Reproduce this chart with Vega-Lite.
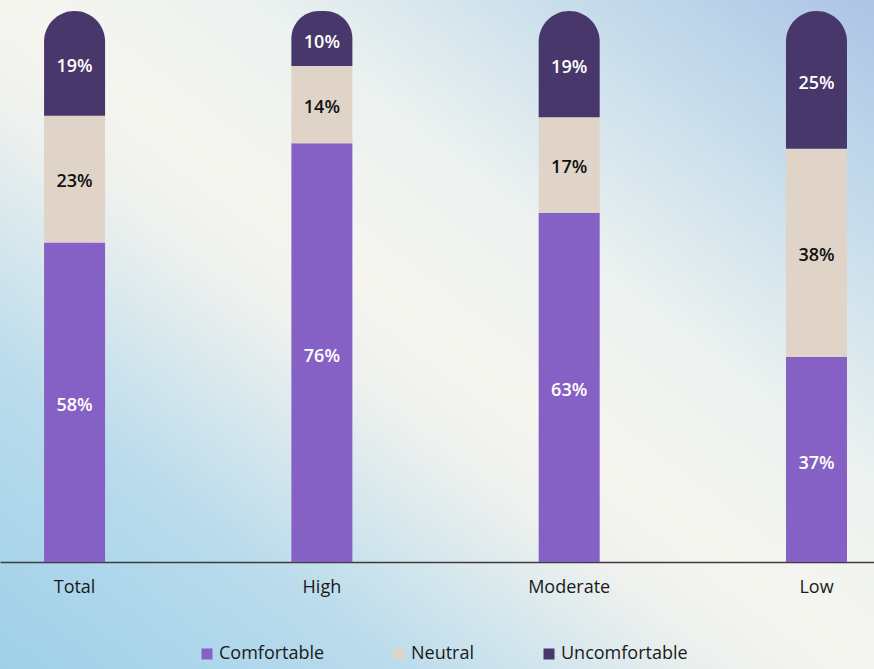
{
  "$schema": "https://vega.github.io/schema/vega-lite/v6.json",
  "width": 874,
  "height": 669,
  "padding": 0,
  "autosize": {"type": "fit", "contains": "padding"},
  "background": "#f5f4ef",
  "config": {
    "font": "Open Sans",
    "view": {
      "stroke": null,
      "fill": {
        "gradient": "linear",
        "x1": 0, "y1": 1, "x2": 1, "y2": 0,
        "stops": [
          {"offset": 0, "color": "#9fd0e9"},
          {"offset": 0.22, "color": "#b9dbec"},
          {"offset": 0.42, "color": "#eef1ee"},
          {"offset": 0.5, "color": "#f6f5f0"},
          {"offset": 0.64, "color": "#ecf2f0"},
          {"offset": 0.84, "color": "#c4dbeb"},
          {"offset": 1, "color": "#aec3e6"}
        ]
      }
    }
  },
  "data": {
    "values": [
      {"group": "Total", "segment": "Comfortable", "order": 1, "value": 58, "label": "58%"},
      {"group": "Total", "segment": "Neutral", "order": 2, "value": 23, "label": "23%"},
      {"group": "Total", "segment": "Uncomfortable", "order": 3, "value": 19, "label": "19%"},
      {"group": "High", "segment": "Comfortable", "order": 1, "value": 76, "label": "76%"},
      {"group": "High", "segment": "Neutral", "order": 2, "value": 14, "label": "14%"},
      {"group": "High", "segment": "Uncomfortable", "order": 3, "value": 10, "label": "10%"},
      {"group": "Moderate", "segment": "Comfortable", "order": 1, "value": 63.4, "label": "63%"},
      {"group": "Moderate", "segment": "Neutral", "order": 2, "value": 17.3, "label": "17%"},
      {"group": "Moderate", "segment": "Uncomfortable", "order": 3, "value": 19.3, "label": "19%"},
      {"group": "Low", "segment": "Comfortable", "order": 1, "value": 37.2, "label": "37%"},
      {"group": "Low", "segment": "Neutral", "order": 2, "value": 37.8, "label": "38%"},
      {"group": "Low", "segment": "Uncomfortable", "order": 3, "value": 25, "label": "25%"}
    ]
  },
  "transform": [
    {"stack": "value", "groupby": ["group"], "sort": [{"field": "order", "order": "ascending"}], "as": ["y0", "y1"]},
    {"calculate": "(datum.y0 + datum.y1) / 2", "as": "ymid"}
  ],
  "encoding": {
    "x": {
      "field": "group",
      "type": "nominal",
      "sort": ["Total", "High", "Moderate", "Low"],
      "scale": {"paddingInner": 0.7533, "paddingOuter": 0.1437, "align": 0.62},
      "axis": {
        "title": null,
        "orient": "bottom",
        "offset": -107,
        "labelAngle": 0,
        "ticks": false,
        "domainColor": "#3c3c3c",
        "domainWidth": 1.5,
        "labelFontSize": 18,
        "labelColor": "#1a1a1a",
        "labelPadding": 16
      }
    }
  },
  "layer": [
    {
      "transform": [{"filter": "datum.segment !== 'Uncomfortable'"}],
      "mark": {"type": "bar"},
      "encoding": {
        "y": {"field": "y1", "type": "quantitative", "scale": {"domain": [-19.42, 102.0], "nice": false, "zero": false}, "axis": null},
        "y2": {"field": "y0"},
        "color": {
          "field": "segment",
          "type": "nominal",
          "scale": {"domain": ["Comfortable", "Neutral", "Uncomfortable"], "range": ["#8661c5", "#e0d4c9", "#47376a"]},
          "legend": {
            "title": null,
            "orient": "none",
            "legendX": 198,
            "legendY": 645,
            "direction": "horizontal",
            "symbolType": "square",
            "symbolSize": 121,
            "symbolStrokeWidth": 0,
            "labelFontSize": 18,
            "labelColor": "#1a1a1a",
            "labelOffset": 3,
            "columnPadding": 65
          }
        }
      }
    },
    {
      "transform": [{"filter": "datum.segment === 'Uncomfortable'"}],
      "mark": {"type": "bar", "cornerRadiusTopLeft": 30.5, "cornerRadiusTopRight": 30.5},
      "encoding": {
        "y": {"field": "y1", "type": "quantitative"},
        "y2": {"field": "y0"},
        "color": {"field": "segment", "type": "nominal"}
      }
    },
    {
      "transform": [{"filter": "datum.segment !== 'Neutral'"}],
      "mark": {"type": "text", "fontSize": 18, "fontWeight": 600, "color": "#ffffff", "dy": 4},
      "encoding": {
        "y": {"field": "ymid", "type": "quantitative"},
        "text": {"field": "label"}
      }
    },
    {
      "transform": [{"filter": "datum.segment === 'Neutral'"}],
      "mark": {"type": "text", "fontSize": 18, "fontWeight": 600, "color": "#111111", "dy": 3},
      "encoding": {
        "y": {"field": "ymid", "type": "quantitative"},
        "text": {"field": "label"}
      }
    }
  ]
}
